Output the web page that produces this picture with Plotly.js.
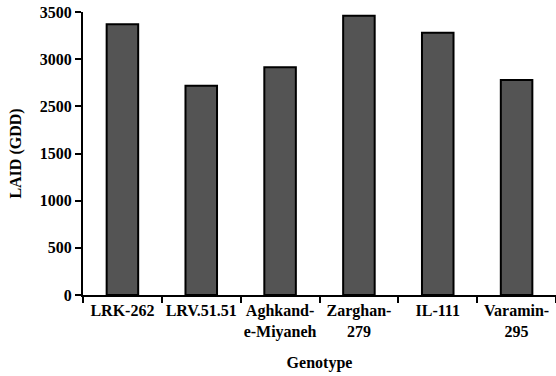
<!DOCTYPE html>
<html>
<head>
<meta charset="utf-8">
<script src="https://cdn.plot.ly/plotly-3.0.1.min.js"></script>
<style>html,body{margin:0;padding:0;background:#fff;}#chart{width:556px;height:376px;}</style>
</head>
<body>
<div id="chart"></div>
<script>
const genotypes = ["LRK-262", "LRV.51.51", "Aghkand-<br>e-Miyaneh", "Zarghan-<br>279", "IL-111", "Varamin-<br>295"];
const laid = [3348, 2589, 2816, 3454, 3244, 2659];
const yTickLabels = ["0", "500", "1000", "1500", "2500", "3000", "3500"];
const yMax = 3500;

const fam = "Liberation Serif";
const tf = {family: fam, size: 16, color: "#000", weight: 700};

Plotly.newPlot("chart", [{
  type: "bar",
  x: genotypes,
  y: laid,
  marker: {color: "#545454", line: {color: "#000", width: 2}},
  hoverinfo: "x+y"
}], {
  width: 556, height: 376,
  margin: {l: 83, r: 0, t: 12, b: 81},
  paper_bgcolor: "#fff", plot_bgcolor: "#fff",
  bargap: 0.6,
  showlegend: false,
  font: {family: fam, size: 16, color: "#000"},
  xaxis: {
    type: "category",
    showline: true, linecolor: "#000", linewidth: 2,
    ticks: "outside", tickson: "boundaries", ticklen: 6, tickwidth: 2, tickcolor: "#000",
    tickangle: 0,
    showgrid: false, zeroline: false,
    tickfont: tf,
    title: {text: "Genotype", font: tf, standoff: 17},
    automargin: false
  },
  yaxis: {
    range: [0, yMax],
    tickmode: "array",
    tickvals: yTickLabels.map((_, i) => i * yMax / (yTickLabels.length - 1)),
    ticktext: yTickLabels,
    showline: true, linecolor: "#000", linewidth: 2,
    ticks: "outside", ticklen: 6, tickwidth: 2, tickcolor: "#000",
    showgrid: false, zeroline: false,
    tickfont: tf,
    title: {text: "LAID (GDD)", font: tf, standoff: 14},
    automargin: false
  }
}, {displayModeBar: false, staticPlot: true});
</script>
</body>
</html>
